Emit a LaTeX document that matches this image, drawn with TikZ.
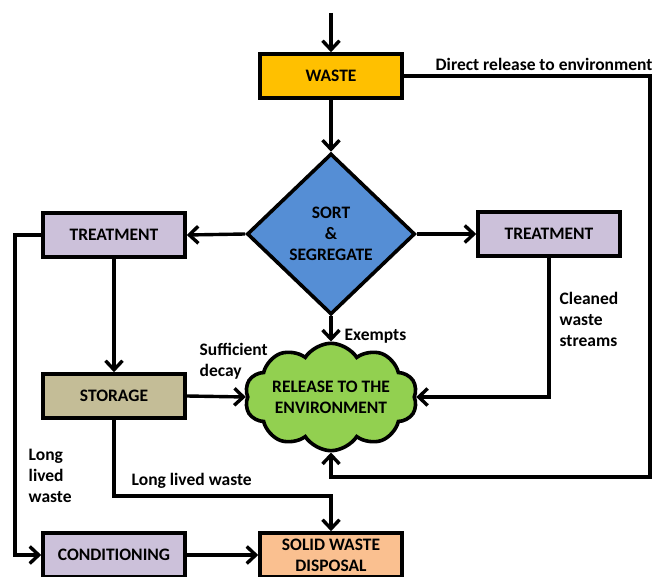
\documentclass[tikz,border=0pt]{standalone}
\usepackage{fontspec}
\setmainfont{Carlito}
\usetikzlibrary{arrows.meta,shapes.geometric,shapes.symbols}
\definecolor{wastec}{HTML}{FFC000}
\definecolor{sortc}{HTML}{558ED5}
\definecolor{lavc}{HTML}{CCC1DA}
\definecolor{storc}{HTML}{C4BD97}
\definecolor{solidc}{HTML}{FAC090}
\definecolor{cloudc}{HTML}{92D050}
\begin{document}
\begin{tikzpicture}[x=1pt,y=-1pt,
  font=\bfseries\fontsize{17.5}{21}\selectfont,
  line width=3.4pt,
  box/.style={draw, line width=3.6pt, minimum width=142pt, minimum height=44pt, inner sep=0pt, align=center},
  arr/.style={-{Straight Barb[length=9pt,width=17pt]}},
  lbl/.style={anchor=west, align=left, inner sep=0pt}]
\useasboundingbox (0,0) rectangle (653,577);
\clip (0,0) rectangle (653,577);
\node[box, fill=wastec] (waste) at (331,76) {WASTE};
\node[draw, diamond, fill=sortc, line width=3.6pt, minimum width=168pt, minimum height=161pt, inner sep=0pt, align=center] (sort) at (331,234) {SORT\\\&\\SEGREGATE};
\node[box, fill=lavc] (tl) at (114,235) {TREATMENT};
\node[box, fill=lavc] (tr) at (549,234) {TREATMENT};
\node[box, fill=storc] (stor) at (114,396) {STORAGE};
\node[draw, cloud, cloud puffs=10, cloud puff arc=115, aspect=2, fill=cloudc, line width=3.6pt, minimum width=170pt, minimum height=88pt, inner sep=0pt, align=center] (cloud) at (331,397) {RELEASE TO THE\\ENVIRONMENT};
\node[box, fill=lavc] (cond) at (114,555) {CONDITIONING};
\node[box, fill=solidc] (solid) at (331,555) {SOLID WASTE\\DISPOSAL};

\node[lbl] (ldirect) at (434,64) {Direct release to environment};
\node[lbl] (lsuff) at (198,361) {Sufficient\\decay};
\node[lbl] (lexempt) at (343,336) {Exempts};
\node[lbl] (lclean) at (558,319) {Cleaned\\waste\\streams};
\node[lbl] (llong1) at (27,476) {Long\\lived\\waste};
\node[lbl] (llong2) at (130,481) {Long lived waste};

\coordinate (top) at (331,13);
\coordinate (c1) at (650,477);
\coordinate (c2) at (15,555);
\coordinate (c3) at (114,496);

\draw[arr] (top) -- (waste.north);
\draw[arr] (waste.south) -- (sort.north);
\draw[arr] (sort.west) -- (tl.east);
\draw[arr] (sort.east) -- (tr.west);
\draw[arr] (tl.south) -- (stor.north);
\draw[arr] (sort.south) -- (cloud.north);
\draw[arr] (stor.east) -- (cloud.west);
\draw[arr] (tr.south) |- (cloud.east);
\draw[arr] (waste.east) -| (c1) -| (cloud.south);
\draw[arr] (tl.west) -| (c2) -- (cond.west);
\draw[arr] (stor.south) -- (c3) -| (solid.north);
\draw[arr] (cond.east) -- (solid.west);
\end{tikzpicture}
\end{document}
